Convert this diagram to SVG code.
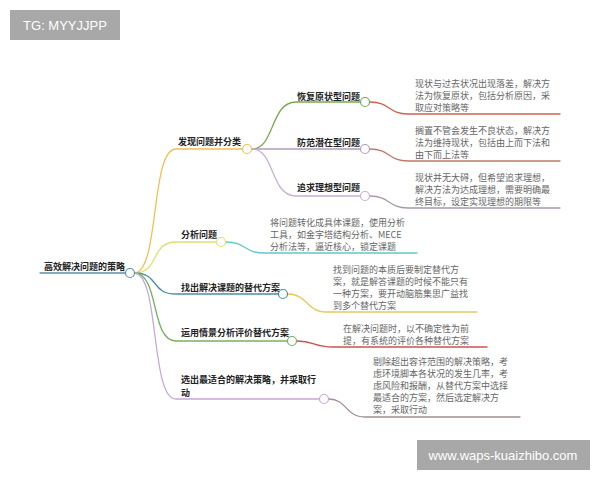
<svg xmlns="http://www.w3.org/2000/svg" width="600" height="480" viewBox="0 0 600 480">
<style>
text{font-family:"Noto Sans CJK SC","Noto Sans",sans-serif;font-size:9px}
.lb{fill:#222;font-weight:bold}
.ds{fill:#666}
.ln{fill:none;stroke-width:1.3;stroke-linecap:round}
.nd{fill:#fff;stroke-width:1.2}
.wm{fill:#fff;font-family:"Liberation Sans","DejaVu Sans",sans-serif;font-size:13px}
</style>
<rect width="600" height="480" fill="#fff"/>
<g id="connectors">
<path class="ln" stroke="#5a90a8" d="M40,273 H126"/>
<path class="ln" stroke="#f0c050" d="M134,273 C160,273 150,149 176,149 H243"/>
<path class="ln" stroke="#dde070" d="M134,273 C160,273 150,242 176,242 H216"/>
<path class="ln" stroke="#4a8fa5" d="M134,273 C160,273 150,294 176,294 H278"/>
<path class="ln" stroke="#78b060" d="M134,273 C160,273 150,341 176,341 H287"/>
<path class="ln" stroke="#c8a8d8" d="M134,273 C160,273 150,399 176,399 H319"/>
<path class="ln" stroke="#78aa50" d="M252,149 C275,149 270,102 296,102 H360"/>
<path class="ln" stroke="#b09cbc" d="M252,149 H360"/>
<path class="ln" stroke="#c8b0d4" d="M252,149 C275,149 270,196 296,196 H360"/>
<path class="ln" stroke="#d06050" d="M370,102 C390,102 388,114 408,114 H560"/>
<path class="ln" stroke="#c07868" d="M370,149 C390,149 388,161 408,161 H560"/>
<path class="ln" stroke="#a898a8" d="M370,196 C390,196 388,208 408,208 H560"/>
<path class="ln" stroke="#60c8d0" d="M226,242 C246,242 244,253 264,253 H417"/>
<path class="ln" stroke="#e8c860" d="M288,294 C308,294 306,312 326,312 H477"/>
<path class="ln" stroke="#d05050" d="M297,341 C315,341 313,347 333,347 H487"/>
<path class="ln" stroke="#a09090" d="M329,399 C347,399 345,417 365,417 H520"/>
</g>
<g id="root">
<text class="lb" x="44" y="270">高效解决问题的策略</text>
<circle class="nd" cx="130" cy="273" r="4.5" stroke="#5a90a8"/>
</g>
<g id="n1">
<text class="lb" x="178" y="145">发现问题并分类</text>
<circle class="nd" cx="247" cy="149" r="4.5" stroke="#f0c050"/>
</g>
<g id="n1a">
<text class="lb" x="297" y="100">恢复原状型问题</text>
<circle class="nd" cx="365" cy="102" r="4.5" stroke="#78aa50"/>
</g>
<g id="n1b">
<text class="lb" x="297" y="146">防范潜在型问题</text>
<circle class="nd" cx="365" cy="149" r="4.5" stroke="#b09cbc"/>
</g>
<g id="n1c">
<text class="lb" x="297" y="191">追求理想型问题</text>
<circle class="nd" cx="365" cy="196" r="4.5" stroke="#c8b0d4"/>
</g>
<g id="d1a">
<text class="ds" x="415" y="87">现状与过去状况出现落差，解决方</text>
<text class="ds" x="415" y="99">法为恢复原状，包括分析原因，采</text>
<text class="ds" x="415" y="111">取应对策略等</text>
</g>
<g id="d1b">
<text class="ds" x="415" y="134">搁置不管会发生不良状态，解决方</text>
<text class="ds" x="415" y="146">法为维持现状，包括由上而下法和</text>
<text class="ds" x="415" y="158">由下而上法等</text>
</g>
<g id="d1c">
<text class="ds" x="415" y="181">现状并无大碍，但希望追求理想，</text>
<text class="ds" x="415" y="193">解决方法为达成理想，需要明确最</text>
<text class="ds" x="415" y="205">终目标，设定实现理想的期限等</text>
</g>
<g id="n2">
<text class="lb" x="181" y="238">分析问题</text>
<circle class="nd" cx="221" cy="242" r="4.5" stroke="#dde070"/>
</g>
<g id="d2">
<text class="ds" x="270" y="226">将问题转化成具体课题，使用分析</text>
<text class="ds" x="270" y="238">工具，如金字塔结构分析、MECE</text>
<text class="ds" x="270" y="250">分析法等，逼近核心，锁定课题</text>
</g>
<g id="n3">
<text class="lb" x="181" y="291">找出解决课题的替代方案</text>
<circle class="nd" cx="283" cy="294" r="4.5" stroke="#4a8fa5"/>
</g>
<g id="d3">
<text class="ds" x="333" y="273">找到问题的本质后要制定替代方</text>
<text class="ds" x="333" y="285">案，就是解答课题的时候不能只有</text>
<text class="ds" x="333" y="297">一种方案，要开动脑筋集思广益找</text>
<text class="ds" x="333" y="309">到多个替代方案</text>
</g>
<g id="n4">
<text class="lb" x="181" y="336">运用情景分析评价替代方案</text>
<circle class="nd" cx="292" cy="341" r="4.5" stroke="#78b060"/>
</g>
<g id="d4">
<text class="ds" x="343" y="332">在解决问题时，以不确定性为前</text>
<text class="ds" x="343" y="344">提，有系统的评价各种替代方案</text>
</g>
<g id="n5">
<text class="lb" x="181" y="383">选出最适合的解决策略，并采取行</text>
<text class="lb" x="181" y="396">动</text>
<circle class="nd" cx="324" cy="399" r="4.5" stroke="#c8a8d8"/>
</g>
<g id="d5">
<text class="ds" x="373" y="365">剔除超出容许范围的解决策略，考</text>
<text class="ds" x="373" y="377">虑环境脚本各状况的发生几率，考</text>
<text class="ds" x="373" y="389">虑风险和报酬，从替代方案中选择</text>
<text class="ds" x="373" y="401">最适合的方案，然后选定解决方</text>
<text class="ds" x="373" y="413">案，采取行动</text>
</g>
<g id="wm1">
<rect x="10" y="10" width="110" height="30" fill="#a8a8a8"/>
<text class="wm" x="65" y="30" text-anchor="middle">TG: MYYJJPP</text>
</g>
<g id="wm2">
<rect x="417" y="440" width="173" height="30" fill="#a8a8a8"/>
<text class="wm" x="503" y="460" text-anchor="middle">www.waps-kuaizhibo.com</text>
</g>
</svg>
